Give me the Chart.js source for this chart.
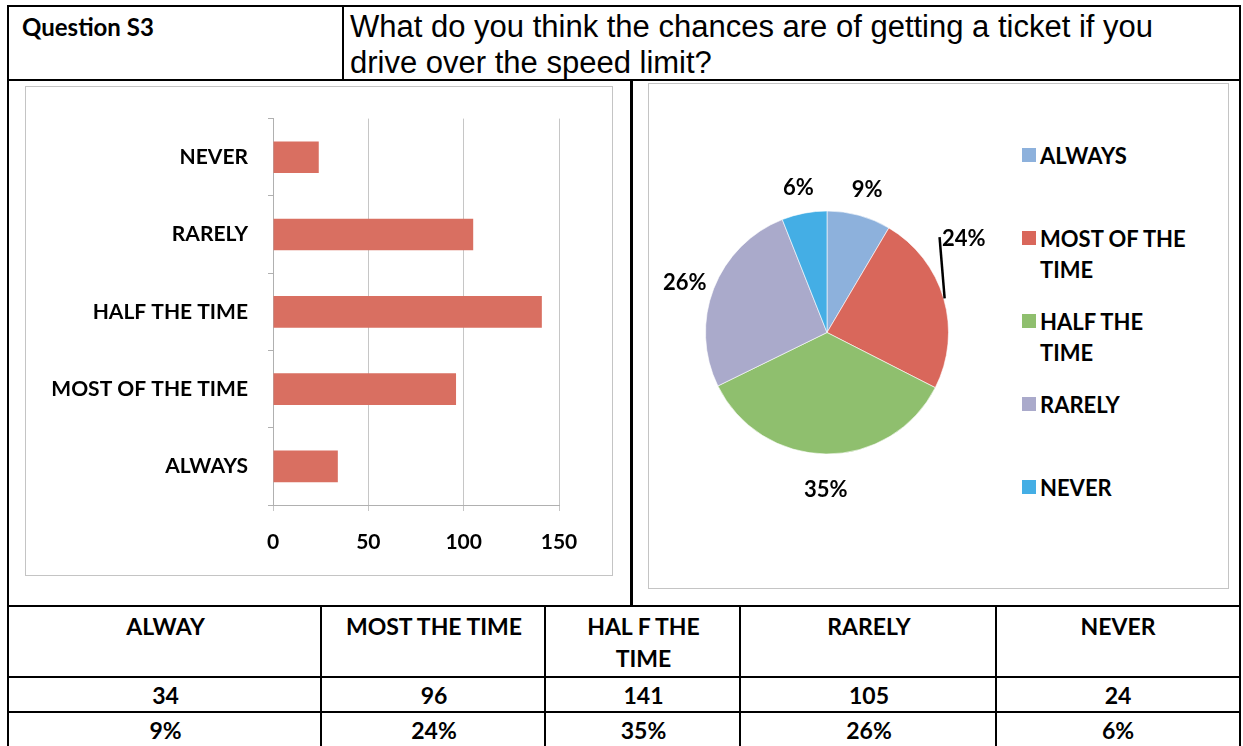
<!DOCTYPE html>
<html>
<head>
<meta charset="utf-8">
<script src="https://cdn.jsdelivr.net/npm/chart.js@4.4.1/dist/chart.umd.min.js"></script>
<style>
  html, body { margin: 0; padding: 0; background: #fff; }
  body { width: 1243px; height: 746px; position: relative; overflow: hidden; font-family: Lato, "Open Sans", sans-serif; color: #000; }
  .hl { position: absolute; height: 2px; background: #000; }
  .vl { position: absolute; width: 2px; background: #000; }
  .box { position: absolute; border: 1px solid #c4c4c4; box-sizing: border-box; }
  #q { position: absolute; left: 22px; top: 12px; font-size: 24px; font-weight: 700; line-height: 30px; }
  #title { position: absolute; left: 350px; top: 9px; width: 870px; font-family: "Liberation Sans", Arial, sans-serif; font-size: 31px; line-height: 36px; }
  #barWrap { position: absolute; left: 26px; top: 86px; }
  #pieWrap { position: absolute; left: 648px; top: 83px; }
  #legend { position: absolute; left: 1022px; top: 140px; }
  .li { position: absolute; left: 0; width: 210px; }
  .sw { position: absolute; left: 0; top: 8px; width: 14px; height: 14px; }
  .lt { position: absolute; left: 18px; top: 0; width: 152px; font-size: 22px; line-height: 31px; font-weight: 700; }
  .cell { position: absolute; text-align: center; font-size: 23px; font-weight: 700; }
</style>
</head>
<body>
<script>
// ---------- data ----------
const categories = ['ALWAYS', 'MOST OF THE TIME', 'HALF THE TIME', 'RARELY', 'NEVER'];
const counts = [34, 96, 141, 105, 24];
const xTicks = [0, 50, 100, 150];
const pieColors = ['#8DB1DC', '#D9675B', '#8FBF6E', '#AAAACB', '#44AEE5'];
const barColor = '#D96F61';
const tableHeaders = ['ALWAY', 'MOST THE TIME', 'HAL F THE<br>TIME', 'RARELY', 'NEVER'];
const titleLeft = 'Question S3';
const titleText = 'What do you think the chances are of getting a ticket if you drive over the speed limit?';
</script>

<!-- frame lines -->
<div class="hl" style="left:7px;top:5px;width:1234px"></div>
<div class="hl" style="left:7px;top:79px;width:1234px"></div>
<div class="hl" style="left:7px;top:605px;width:1234px"></div>
<div class="hl" style="left:7px;top:676px;width:1234px"></div>
<div class="hl" style="left:7px;top:711px;width:1234px"></div>
<div class="vl" style="left:7px;top:5px;height:741px"></div>
<div class="vl" style="left:1239px;top:5px;height:741px"></div>
<div class="vl" style="left:342px;top:5px;height:75px"></div>
<div class="vl" style="left:630px;top:80px;height:526px;width:3px"></div>
<div class="vl" style="left:320px;top:605px;height:141px"></div>
<div class="vl" style="left:544px;top:605px;height:141px"></div>
<div class="vl" style="left:739px;top:605px;height:141px"></div>
<div class="vl" style="left:995px;top:605px;height:141px"></div>

<div class="box" style="left:25px;top:86px;width:588px;height:490px"></div>
<div class="box" style="left:648px;top:83px;width:581px;height:506px"></div>

<div id="q"></div>
<div id="title"></div>

<div id="barWrap"><canvas id="bar" width="585" height="488"></canvas></div>
<div id="pieWrap"><canvas id="pie" width="370" height="505"></canvas></div>
<div id="legend"></div>
<div id="table"></div>

<script>
document.getElementById('q').textContent = titleLeft;
document.getElementById('title').textContent = titleText;

const FONT = 'Lato, "Open Sans", sans-serif';

// ---------- bar chart ----------
new Chart(document.getElementById('bar'), {
  type: 'bar',
  data: {
    labels: categories,
    datasets: [{ data: counts, backgroundColor: barColor, borderWidth: 0,
                 categoryPercentage: 1, barPercentage: 0.41 }]
  },
  options: {
    indexAxis: 'y',
    responsive: false,
    animation: false,
    layout: { padding: { top: 29, right: 52, bottom: 0, left: 0 } },
    plugins: { legend: { display: false }, tooltip: { enabled: false } },
    scales: {
      x: {
        min: 0, max: 150,
        afterBuildTicks: (s) => { s.ticks = xTicks.map(v => ({ value: v })); },
        afterFit: (s) => { s.height = 69; },
        grid: { color: '#c6c6c6', lineWidth: 1, tickLength: 6, drawTicks: true },
        border: { color: '#b0b0b0' },
        ticks: { color: '#000', padding: 19, font: { family: FONT, size: 21, weight: 700 } }
      },
      y: {
        reverse: true,
        afterFit: (s) => { s.width = 247; },
        grid: { drawOnChartArea: false, offset: true, tickLength: 5, color: '#b0b0b0' },
        border: { color: '#b0b0b0' },
        ticks: { color: '#000', padding: 20, font: { family: FONT, size: 21, weight: 700 } }
      }
    }
  }
});

// ---------- pie chart ----------
const pieLabelPlugin = {
  id: 'pieLabels',
  afterDatasetsDraw(chart) {
    const ctx = chart.ctx;
    const meta = chart.getDatasetMeta(0);
    const total = counts.reduce((a, b) => a + b, 0);
    ctx.save();
    ctx.font = '700 22px ' + FONT;
    ctx.fillStyle = '#000';
    ctx.textAlign = 'center';
    ctx.textBaseline = 'middle';
    meta.data.forEach((arc, i) => {
      const p = arc.getProps(['x', 'y', 'startAngle', 'endAngle', 'outerRadius'], true);
      const mid = (p.startAngle + p.endAngle) / 2;
      const pct = Math.round(counts[i] / total * 100) + '%';
      let ang = mid, dist = p.outerRadius + 31;
      if (i === 1) {
        // label lifted with a leader line, as in the original
        const a1 = mid - 0.42, d1 = p.outerRadius + 26;
        ctx.strokeStyle = '#000';
        ctx.lineWidth = 2.5;
        ctx.beginPath();
        ctx.moveTo(p.x + Math.cos(mid) * (p.outerRadius + 1), p.y + Math.sin(mid) * (p.outerRadius + 1));
        ctx.lineTo(p.x + Math.cos(a1) * d1, p.y + Math.sin(a1) * d1);
        ctx.stroke();
        ang = mid - 0.34; dist = p.outerRadius + 47;
      }
      ctx.fillText(pct, p.x + Math.cos(ang) * dist, p.y + Math.sin(ang) * dist + 5);
    });
    ctx.restore();
  }
};

new Chart(document.getElementById('pie'), {
  type: 'pie',
  data: {
    labels: categories,
    datasets: [{ data: counts, backgroundColor: pieColors, borderColor: 'rgba(255,255,255,0.6)', borderWidth: 1 }]
  },
  options: {
    responsive: false,
    animation: false,
    layout: { padding: { left: 57, right: 69, top: 127, bottom: 133 } },
    plugins: { legend: { display: false }, tooltip: { enabled: false } }
  },
  plugins: [pieLabelPlugin]
});

// ---------- legend (HTML, from data) ----------
const legend = document.getElementById('legend');
categories.forEach((c, i) => {
  const li = document.createElement('div');
  li.className = 'li';
  li.style.top = (i * 83) + 'px';
  li.innerHTML = '<div class="sw" style="background:' + pieColors[i] + '"></div><div class="lt">' + c + '</div>';
  legend.appendChild(li);
});

// ---------- table ----------
const colEdges = [9, 322, 546, 741, 997, 1239];
const total = counts.reduce((a, b) => a + b, 0);
const table = document.getElementById('table');
function cell(x0, x1, top, lh, html) {
  const d = document.createElement('div');
  d.className = 'cell';
  d.style.left = x0 + 'px';
  d.style.width = (x1 - x0) + 'px';
  d.style.top = top + 'px';
  d.style.lineHeight = lh + 'px';
  d.innerHTML = html;
  table.appendChild(d);
}
for (let i = 0; i < 5; i++) {
  cell(colEdges[i], colEdges[i + 1], 610, 32, tableHeaders[i]);
  cell(colEdges[i], colEdges[i + 1], 679, 32, String(counts[i]));
  cell(colEdges[i], colEdges[i + 1], 714, 32, Math.round(counts[i] / total * 100) + '%');
}
</script>
</body>
</html>
